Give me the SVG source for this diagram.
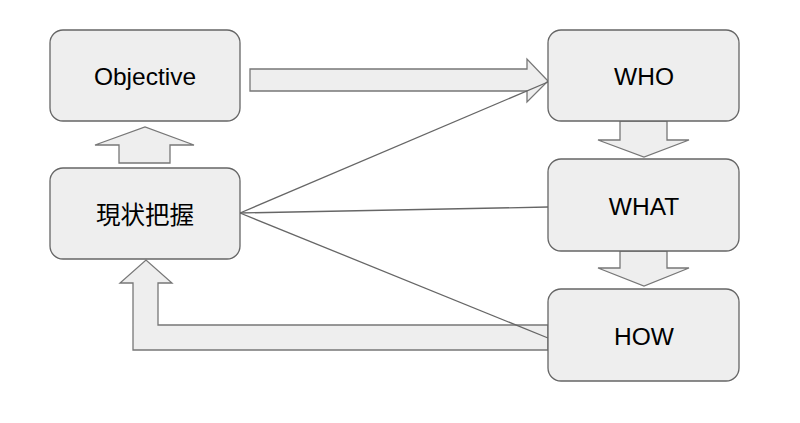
<svg xmlns="http://www.w3.org/2000/svg" width="800" height="423" viewBox="0 0 800 423">
<style>
.box{fill:#eeeeee;stroke:#666666;stroke-width:1.3}
.arr{fill:#eeeeee;stroke:#777777;stroke-width:1.3;stroke-linejoin:miter}
.ln{fill:none;stroke:#666666;stroke-width:1.3}
text{font-family:"Liberation Sans",Arial,"Noto Sans CJK JP",sans-serif;font-size:24.5px;fill:#000;text-anchor:middle}
</style>
<rect width="800" height="423" fill="#ffffff"/>
<g id="connectors">
<polygon class="arr" points="250,69 527,69 527,59 548,81 527,102 527,91 250,91"/>
<polygon class="arr" points="119,163 119,145 95,145 145,127 194,145 170,145 170,163"/>
<polygon class="arr" points="620,121 667,121 667,140 689,140 644,157 598,140 620,140"/>
<polygon class="arr" points="620,251 667,251 667,268 689,268 644,286 598,268 620,268"/>
<polygon class="arr" points="548,325 158,325 158,283 172,283 146,260 120,283 133,283 133,350 548,350"/>
<line class="ln" x1="240" y1="213" x2="548" y2="82"/>
<line class="ln" x1="240" y1="213" x2="548" y2="207"/>
<line class="ln" x1="240" y1="213" x2="548" y2="338"/>
</g>
<g id="objective"><rect class="box" x="50" y="30" width="190" height="91" rx="13"/><text x="145" y="85">Objective</text></g>
<g id="genjo"><rect class="box" x="50" y="168" width="190" height="91" rx="13"/><text x="145" y="224">現状把握</text></g>
<g id="who"><rect class="box" x="548" y="30" width="191" height="91" rx="13"/><text x="644" y="85">WHO</text></g>
<g id="what"><rect class="box" x="548" y="159" width="191" height="92" rx="13"/><text x="644" y="215">WHAT</text></g>
<g id="how"><rect class="box" x="548" y="289" width="191" height="92" rx="13"/><text x="644" y="345">HOW</text></g>
</svg>
